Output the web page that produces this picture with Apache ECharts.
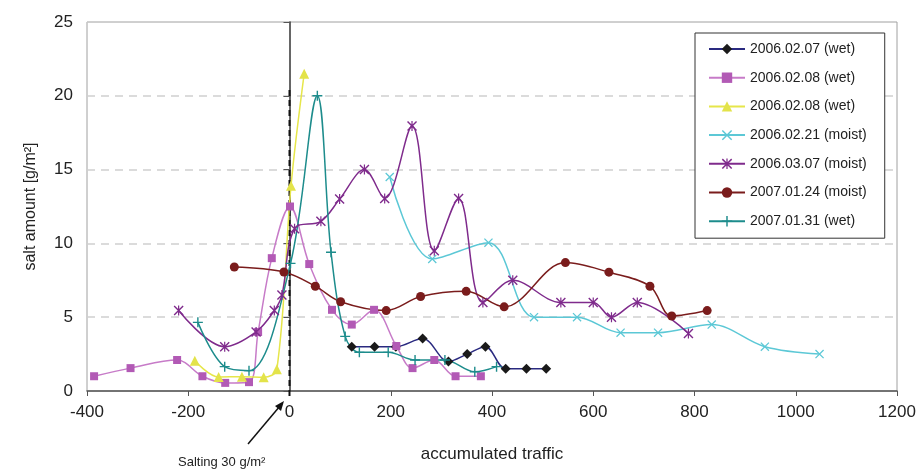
<!DOCTYPE html>
<html>
<head>
<meta charset="utf-8">
<script src="https://cdn.jsdelivr.net/npm/echarts@6/dist/echarts.min.js"></script>
<style>html,body{margin:0;padding:0;background:#fff}#c{width:922px;height:473px}</style>
</head>
<body>
<div id="c"></div>
<script>
// ---- data ----
const xTicks = [-400, -200, 0, 200, 400, 600, 800, 1000, 1200];
const yTicks = [0, 5, 10, 15, 20, 25];
const names = ['2006.02.07 (wet)', '2006.02.08 (wet)', '2006.02.08 (wet) ', '2006.02.21 (moist)', '2006.03.07 (moist)', '2007.01.24 (moist)', '2007.01.31 (wet)'];
const s060207 = [[123,3.0],[168,3.0],[210,3.0],[263,3.55],[314,2.0],[351,2.5],[387,3.0],[427,1.5],[468,1.5],[507,1.5]];
const s060208a = [[-386,1.0],[-314,1.55],[-222,2.1],[-172,1.0],[-127,0.55],[-80,0.6],[-62,4.0],[-35,9.0],[1,12.5],[39,8.6],[84,5.5],[123,4.5],[167,5.5],[211,3.05],[243,1.55],[286,2.1],[328,1.0],[378,1.0]];
const s060208b = [[-187,2.05],[-140,0.95],[-94,0.97],[-51,0.93],[-25,1.47],[3,13.9],[29,21.5]];
const s060221 = [[198,14.5],[282,8.95],[393,10.05],[483,5.0],[568,5.0],[654,3.95],[728,3.95],[834,4.5],[939,3.0],[1047,2.5]];
const s060307 = [[-219,5.45],[-128,3.0],[-66,4.0],[-30,5.45],[-15,6.5],[10,11.0],[62,11.5],[99,13.0],[148,15.0],[188,13.05],[242,17.95],[286,9.5],[334,13.05],[382,6.0],[441,7.5],[536,6.0],[600,6.0],[636,5.0],[687,6.0],[788,3.9]];
const s070124 = [[-109,8.4],[-11,8.06],[51,7.1],[101,6.05],[191,5.45],[259,6.4],[349,6.75],[424,5.7],[545,8.7],[631,8.05],[712,7.1],[755,5.08],[825,5.45]];
const s070131 = [[-181,4.65],[-128,1.65],[-80,1.38],[2,8.65],[55,20.0],[82,9.4],[110,3.7],[138,2.62],[195,2.62],[248,2.1],[307,2.1],[366,1.3],[409,1.65]];
const saltingLine = [[0,20.4],[0,-0.4]];

const FONT = '"Liberation Sans", Arial, sans-serif';
const X_PATH = 'path://M0,1L1,0L10,9L9,10Z M9,0L10,1L1,10L0,9Z';
const AST_PATH = 'path://M0,1L1,0L10,9L9,10Z M9,0L10,1L1,10L0,9Z M4.4,0L5.6,0L5.6,10L4.4,10Z';
const PLUS_PATH = 'path://M4.3,0L5.7,0L5.7,10L4.3,10Z M0,4.3L10,4.3L10,5.7L0,5.7Z';

function mk(name, data, lineColor, markColor, symbol, size) {
  return {
    name: name, type: 'line', data: data, smooth: 0.35,
    symbol: symbol, symbolSize: size, showAllSymbol: true,
    lineStyle: { color: lineColor, width: 1.5 },
    itemStyle: { color: markColor },
    emphasis: { disabled: true }, z: 3
  };
}

const chart = echarts.init(document.getElementById('c'), null, { renderer: 'canvas' });
chart.setOption({
  animation: false,
  backgroundColor: '#fff',
  textStyle: { fontFamily: FONT },
  grid: { left: 87, right: 25, top: 22, bottom: 82, show: true, borderColor: '#a0a0a0', borderWidth: 1 },
  xAxis: {
    type: 'value', min: xTicks[0], max: xTicks[xTicks.length - 1], interval: 200,
    name: 'accumulated traffic', nameLocation: 'middle', nameGap: 55,
    nameTextStyle: { fontSize: 17, color: '#222', fontFamily: FONT },
    axisLine: { onZero: false, lineStyle: { color: '#555', width: 1.5 } },
    axisTick: { show: true, length: 5, lineStyle: { color: '#555' } },
    axisLabel: { fontSize: 17, color: '#222', margin: 13, fontFamily: FONT, formatter: v => String(v) },
    splitLine: { show: false }
  },
  yAxis: {
    type: 'value', min: yTicks[0], max: yTicks[yTicks.length - 1], interval: 5,
    name: 'salt amount [g/m²]', nameLocation: 'middle', nameGap: 48,
    nameTextStyle: { fontSize: 16, color: '#222', fontFamily: FONT },
    axisLine: { show: true, lineStyle: { color: '#333', width: 1.5 } },
    axisTick: { show: true, length: 6, lineStyle: { color: '#555' } },
    axisLabel: { fontSize: 17, color: '#222', margin: 14, fontFamily: FONT },
    splitLine: { show: true, lineStyle: { color: '#d0d0d0', width: 1.5, type: [8, 6] } }
  },
  legend: {
    data: names, orient: 'vertical', left: 695, top: 33,
    itemWidth: 36, itemHeight: 13, itemGap: 14.7,
    padding: [9, 18, 10, 13],
    borderColor: '#333', borderWidth: 1, backgroundColor: '#fff',
    textStyle: { fontSize: 14, color: '#222', fontFamily: FONT },
    selectedMode: false
  },
  series: [
    mk(names[0], s060207, '#2a2a80', '#1a1a1a', 'diamond', 10),
    mk(names[1], s060208a, '#c77bc8', '#b25ab5', 'rect', 8),
    mk(names[2], s060208b, '#e6e64a', '#e3e34a', 'triangle', 10),
    mk(names[3], s060221, '#5cc8d6', '#5cc8d6', X_PATH, 9),
    mk(names[4], s060307, '#7f2b8c', '#7f2b8c', AST_PATH, 10),
    mk(names[5], s070124, '#7a1c1c', '#7a1c1c', 'circle', 9),
    mk(names[6], s070131, '#1d8c8c', '#1d8c8c', PLUS_PATH, 10),
    {
      name: 'salting', type: 'line', data: saltingLine, symbol: 'none', clip: false,
      lineStyle: { color: '#111', width: 2, type: [6, 4] }, z: 2, silent: true
    }
  ],
  graphic: [
    { type: 'line', shape: { x1: 248, y1: 444, x2: 280, y2: 406 }, style: { stroke: '#111', lineWidth: 1.5 } },
    { type: 'polygon', shape: { points: [[284, 401], [275, 406], [281, 411]] }, style: { fill: '#111' } },
    { type: 'text', left: 178, top: 456, style: { text: 'Salting 30 g/m²', font: '13px ' + FONT, fill: '#222' } }
  ]
});
</script>
</body>
</html>
